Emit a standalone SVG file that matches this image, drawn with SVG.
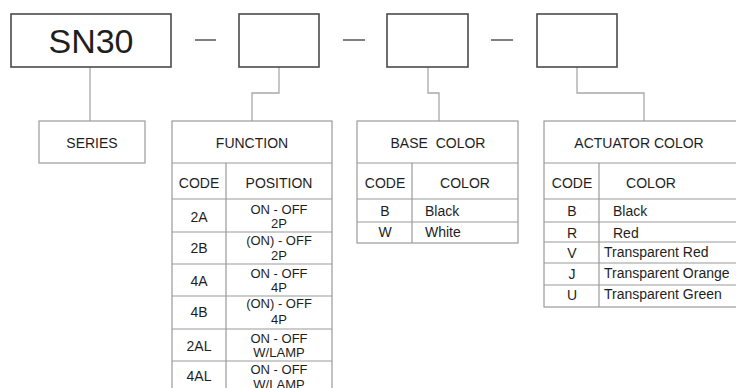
<svg xmlns="http://www.w3.org/2000/svg" width="736" height="388" viewBox="0 0 736 388">
<style>
.top{fill:#fff;stroke:#4a4a4a;stroke-width:1.6}
.tb{fill:#fff;stroke:#9a9a9a;stroke-width:1.2}
.ln{stroke:#9a9a9a;stroke-width:1.2;fill:none}
.cn{stroke:#a8a8a8;stroke-width:1.3;fill:none}
.dash{stroke:#4a4a4a;stroke-width:1.4}
text{font-family:"Liberation Sans",Arial,sans-serif;fill:#1e1e1e}
.h{font-size:14px;text-anchor:middle}
.c{font-size:14px;text-anchor:middle}
.s{font-size:13px;text-anchor:middle}
.l{font-size:14px}
</style>
<rect width="736" height="388" fill="#fff"/>
<g id="connectors">
<line class="dash" x1="195" y1="40" x2="216" y2="40"/>
<line class="dash" x1="343" y1="40" x2="365" y2="40"/>
<line class="dash" x1="491" y1="40" x2="513" y2="40"/>
<polyline class="cn" points="90,67 90,121"/>
<polyline class="cn" points="279,67 279,93 252,93 252,121"/>
<polyline class="cn" points="428,67 428,93 439,93 439,121"/>
<polyline class="cn" points="577,67 577,93 644,93 644,121"/>
</g>
<g id="sn30">
<rect class="top" x="11" y="14" width="160" height="53"/>
<text x="91" y="53" font-size="34" text-anchor="middle">SN30</text>
</g>
<g id="box-function"><rect class="top" x="239" y="14" width="80" height="53"/></g>
<g id="box-base"><rect class="top" x="387" y="14" width="81" height="53"/></g>
<g id="box-actuator"><rect class="top" x="537" y="14" width="80" height="53"/></g>
<g id="series">
<rect class="tb" x="39" y="121" width="106" height="42"/>
<text class="h" x="92" y="148">SERIES</text>
</g>
<g id="function">
<rect class="tb" x="172" y="121" width="160" height="280"/>
<line class="ln" x1="172" y1="163" x2="332" y2="163"/>
<line class="ln" x1="226" y1="163" x2="226" y2="401"/>
<line class="ln" x1="172" y1="199" x2="332" y2="199"/>
<line class="ln" x1="172" y1="232" x2="332" y2="232"/>
<line class="ln" x1="172" y1="264" x2="332" y2="264"/>
<line class="ln" x1="172" y1="296" x2="332" y2="296"/>
<line class="ln" x1="172" y1="329" x2="332" y2="329"/>
<line class="ln" x1="172" y1="361" x2="332" y2="361"/>
<text class="h" x="252" y="148">FUNCTION</text>
<text class="c" x="199" y="188">CODE</text>
<text class="c" x="279" y="188">POSITION</text>
<text class="c" x="199" y="222">2A</text>
<text class="s" x="279" y="214">ON - OFF</text>
<text class="s" x="279" y="228">2P</text>
<text class="c" x="199" y="253">2B</text>
<text class="s" x="279" y="245">(ON) - OFF</text>
<text class="s" x="279" y="260">2P</text>
<text class="c" x="199" y="286">4A</text>
<text class="s" x="279" y="278">ON - OFF</text>
<text class="s" x="279" y="292">4P</text>
<text class="c" x="199" y="317">4B</text>
<text class="s" x="279" y="308">(ON) - OFF</text>
<text class="s" x="279" y="324">4P</text>
<text class="c" x="199" y="351">2AL</text>
<text class="s" x="279" y="343">ON - OFF</text>
<text class="s" x="279" y="357">W/LAMP</text>
<text class="c" x="199" y="381">4AL</text>
<text class="s" x="279" y="374">ON - OFF</text>
<text class="s" x="279" y="389">W/LAMP</text>
</g>
<g id="base-color">
<rect class="tb" x="357" y="121" width="161" height="122"/>
<line class="ln" x1="357" y1="163" x2="518" y2="163"/>
<line class="ln" x1="412" y1="163" x2="412" y2="243"/>
<line class="ln" x1="357" y1="199" x2="518" y2="199"/>
<line class="ln" x1="357" y1="222" x2="518" y2="222"/>
<text class="h" x="438" y="148" xml:space="preserve">BASE  COLOR</text>
<text class="c" x="385" y="188">CODE</text>
<text class="c" x="465" y="188">COLOR</text>
<text class="c" x="385" y="216">B</text>
<text class="l" x="425" y="216">Black</text>
<text class="c" x="385" y="237">W</text>
<text class="l" x="425" y="237">White</text>
</g>
<g id="actuator-color">
<rect class="tb" x="544" y="121" width="200" height="186"/>
<line class="ln" x1="544" y1="163" x2="744" y2="163"/>
<line class="ln" x1="599" y1="163" x2="599" y2="307"/>
<line class="ln" x1="544" y1="199" x2="744" y2="199"/>
<line class="ln" x1="544" y1="222" x2="744" y2="222"/>
<line class="ln" x1="544" y1="242" x2="744" y2="242"/>
<line class="ln" x1="544" y1="263" x2="744" y2="263"/>
<line class="ln" x1="544" y1="285" x2="744" y2="285"/>
<text class="h" x="639" y="148">ACTUATOR COLOR</text>
<text class="c" x="572" y="188">CODE</text>
<text class="c" x="651" y="188">COLOR</text>
<text class="c" x="572" y="216">B</text>
<text class="l" x="613" y="216">Black</text>
<text class="c" x="572" y="238">R</text>
<text class="l" x="613" y="238">Red</text>
<text class="c" x="572" y="258">V</text>
<text class="l" x="604" y="257">Transparent Red</text>
<text class="c" x="572" y="279">J</text>
<text class="l" x="604" y="278">Transparent Orange</text>
<text class="c" x="572" y="300">U</text>
<text class="l" x="604" y="299">Transparent Green</text>
</g>
</svg>
